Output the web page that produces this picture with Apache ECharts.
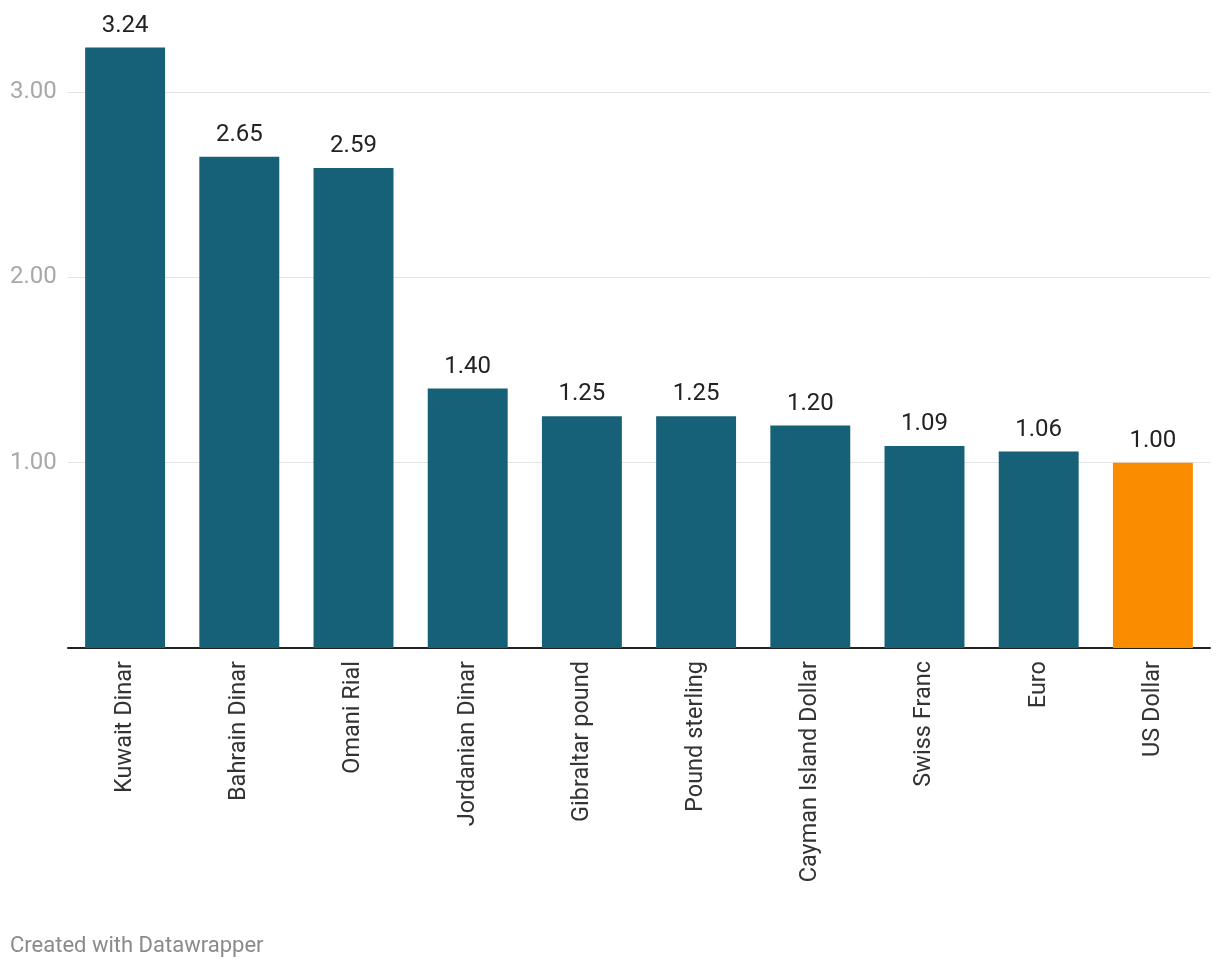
<!DOCTYPE html>
<html>
<head>
<meta charset="utf-8">
<script src="https://cdn.jsdelivr.net/npm/echarts@6/dist/echarts.min.js"></script>
<style>
html,body{margin:0;padding:0;background:#fff;}
#chart{width:1220px;height:970px;}
#footer{position:absolute;left:10px;top:932px;font-family:Roboto,sans-serif;font-size:22px;color:#8a8a8a;line-height:26px;}
</style>
</head>
<body>
<div id="chart"></div>
<div id="footer">Created with Datawrapper</div>
<script>
const categories = ["Kuwait Dinar","Bahrain Dinar","Omani Rial","Jordanian Dinar","Gibraltar pound","Pound sterling","Cayman Island Dollar","Swiss Franc","Euro","US Dollar"];
const values = [3.24,2.65,2.59,1.40,1.25,1.25,1.20,1.09,1.06,1.00];
const highlight = "US Dollar";
const yTicks = [0,1,2,3];

const chart = echarts.init(document.getElementById('chart'));
chart.setOption({
  animation:false,
  textStyle:{fontFamily:'Roboto'},
  grid:{left:68,right:10,top:92,bottom:322,containLabel:false},
  xAxis:{
    type:'category',
    data:categories,
    axisLine:{show:true,lineStyle:{color:'#222',width:2}},
    axisTick:{show:false},
    axisLabel:{rotate:90,fontSize:23.5,color:'#333',margin:13,interval:0}
  },
  yAxis:{
    type:'value',
    min:yTicks[0],max:yTicks[yTicks.length-1],interval:1,
    axisLine:{show:false},axisTick:{show:false},
    splitLine:{lineStyle:{color:'#e3e3e3',width:1}},
    axisLabel:{
      fontSize:24,color:'#a8a8a8',align:'left',margin:58,
      formatter:v=>v===0?'':v.toFixed(2)
    }
  },
  series:[{
    type:'bar',
    clip:false,
    barWidth:'70%',
    data:categories.map((c,i)=>({value:values[i],itemStyle:{color:c===highlight?'#fa8c00':'#176178'}})),
    label:{show:true,position:'top',distance:10,fontSize:24,color:'#222',formatter:p=>p.value.toFixed(2)}
  }]
});
</script>
</body>
</html>
